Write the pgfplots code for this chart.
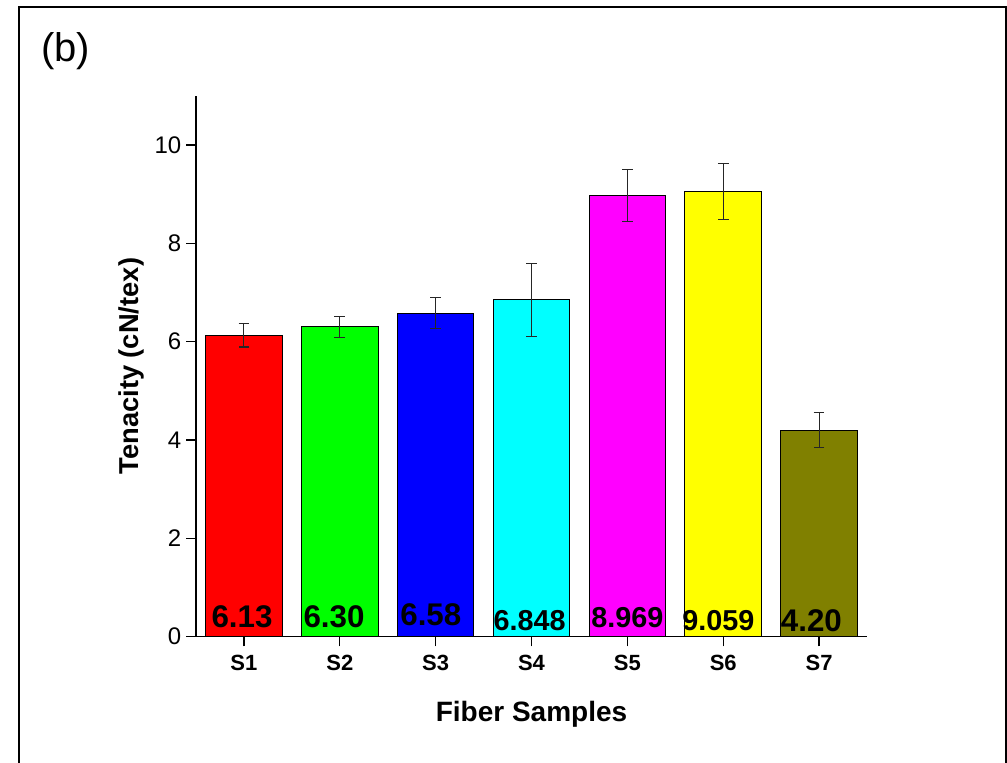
\documentclass[border=0pt]{standalone}
\usepackage{pgfplots}
\pgfplotsset{compat=1.18}
\usepackage{pgfplotstable}
\usepackage{fontspec}
\setmainfont{Liberation Sans}
\definecolor{cRed}{RGB}{255,0,0}
\definecolor{cGreen}{RGB}{0,255,0}
\definecolor{cBlue}{RGB}{0,0,255}
\definecolor{cCyan}{RGB}{0,255,255}
\definecolor{cMagenta}{RGB}{255,0,255}
\definecolor{cYellow}{RGB}{255,255,0}
\definecolor{cOlive}{RGB}{128,128,0}
\pgfplotstableread{
x y lab
0.98 0.19 6.13
1.94 0.18 6.30
2.95 0.23 6.58
6.92 0.11 4.20
}\labA
\pgfplotstableread{
x y lab
3.98 0.13 6.848
5.00 0.18 8.969
5.95 0.13 9.059
}\labB
\begin{document}
\begin{tikzpicture}
\path[use as bounding box] (0,0) rectangle (755.25pt,572.25pt);
\draw[line width=1.5pt] (14.25pt,-2pt) -- (14.25pt,567pt) -- (754.6pt,567pt) -- (754.6pt,-2pt);
\node[anchor=north west, inner sep=0pt, font=\fontsize{30}{30}\selectfont] at (30.75pt,548.25pt) {(b)};
\begin{axis}[
 at={(147pt,94.9pt)}, anchor=south west,
 scale only axis, width=503.25pt, height=405.4pt,
 xmin=0.5, xmax=7.5, ymin=0, ymax=11,
 axis x line*=bottom, axis y line*=left,
 axis line style={line width=1pt, -},
 xtick={1,2,3,4,5,6,7}, xticklabels={S1,S2,S3,S4,S5,S6,S7},
 ytick={0,2,4,6,8,10},
 tick align=outside, major tick length=7.5pt,
 tick style={line width=1pt, black},
 /pgf/number format/assume math mode=true,
 yticklabel style={font=\fontsize{18}{18}\selectfont},
 xticklabel style={font=\bfseries\fontsize{16.5}{16.5}\selectfont, yshift=-3pt},
 xlabel={Fiber Samples},
 ylabel={Tenacity (cN/tex)},
 xlabel style={font=\bfseries\fontsize{21}{21}\selectfont, at={(axis description cs:0.5,0)}, anchor=base, yshift=-63.9pt},
 ylabel style={font=\bfseries\fontsize{20.5}{20.5}\selectfont, at={(axis description cs:-0.0958,0.5)}, anchor=center},
 clip=false,
 every axis plot/.append style={ybar, bar width=0.8, bar shift=0pt, draw=black, line width=0.75pt},
 error bars/error bar style={line width=0.8pt, black!85},
 error bars/error mark options={rotate=90, mark size=4pt, line width=0.8pt, black!85},
]
\addplot[fill=cRed, error bars/.cd, y dir=both, y explicit] coordinates {(1,6.13) +- (0,0.24)};
\addplot[fill=cGreen, error bars/.cd, y dir=both, y explicit] coordinates {(2,6.30) +- (0,0.22)};
\addplot[fill=cBlue, error bars/.cd, y dir=both, y explicit] coordinates {(3,6.58) +- (0,0.31)};
\addplot[fill=cCyan, error bars/.cd, y dir=both, y explicit] coordinates {(4,6.848) +- (0,0.74)};
\addplot[fill=cMagenta, error bars/.cd, y dir=both, y explicit] coordinates {(5,8.969) +- (0,0.53)};
\addplot[fill=cYellow, error bars/.cd, y dir=both, y explicit] coordinates {(6,9.059) +- (0,0.57)};
\addplot[fill=cOlive, error bars/.cd, y dir=both, y explicit] coordinates {(7,4.20) +- (0,0.36)};
\addplot[draw=none, fill=none, only marks, mark=none, nodes near coords, point meta=explicit symbolic,
  every node near coord/.append style={anchor=base, inner sep=0pt, font=\bfseries\fontsize{23.5}{24}\selectfont, text=black}]
  table[x=x, y=y, meta=lab] {\labA};
\addplot[draw=none, fill=none, only marks, mark=none, nodes near coords, point meta=explicit symbolic,
  every node near coord/.append style={anchor=base, inner sep=0pt, font=\bfseries\fontsize{21.6}{22}\selectfont, text=black}]
  table[x=x, y=y, meta=lab] {\labB};
\end{axis}
\end{tikzpicture}
\end{document}
